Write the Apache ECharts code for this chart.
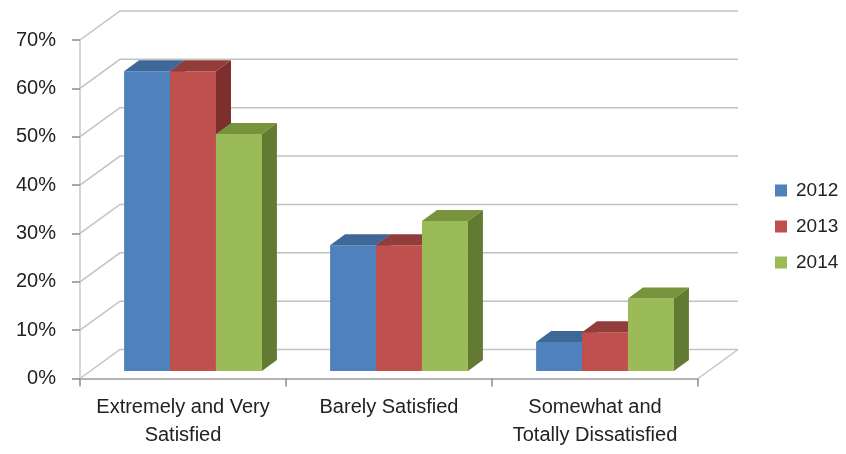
<!DOCTYPE html>
<html>
<head>
<meta charset="utf-8">
<script src="https://cdn.jsdelivr.net/npm/echarts@6/dist/echarts.min.js"></script>
<style>
  html, body { margin: 0; padding: 0; background: #fff; }
  #chart { width: 846px; height: 454px; }
</style>
</head>
<body>
<div id="chart"></div>
<script>
// Satisfaction levels by survey year (percent of respondents)
const categories = ['Extremely and Very\nSatisfied', 'Barely Satisfied', 'Somewhat and\nTotally Dissatisfied'];
const years = ['2012', '2013', '2014'];
const values2012 = [62, 26, 6];
const values2013 = [62, 26, 8];
const values2014 = [49, 31, 15];
const yTicks = [0, 10, 20, 30, 40, 50, 60, 70];

const seriesValues = [values2012, values2013, values2014];
const frontColors = ['#4f81bd', '#c0504d', '#9bbb59'];
const topColors = ['#3f6797', '#933d3b', '#77933c'];
const sideColors = ['#395e8b', '#7c2f2d', '#627a31'];

// oblique depth of the chart box (back wall offset) and of each column
const WALL_DX = 40, WALL_DY = -29;
const COL_DX = 15, COL_DY = -11;
// columns stand a little behind the front edge of the floor
const COL_OFF_X = 10, COL_OFF_Y = -7.5;
const GRID_LINE = '#c2c2c2';

function renderWall(params, api) {
  const cs = params.coordSys;
  const left = cs.x, right = cs.x + cs.width;
  const y = api.coord([0, api.value(1)])[1];
  const style = { stroke: GRID_LINE, lineWidth: 1.5, fill: null };
  const children = [
    { type: 'polyline', shape: { points: [[left, y], [left + WALL_DX, y + WALL_DY], [right + WALL_DX, y + WALL_DY]] }, style: style }
  ];
  if (api.value(1) === 0) {
    children.push({ type: 'line', shape: { x1: right, y1: y, x2: right + WALL_DX, y2: y + WALL_DY }, style: style });
  }
  return { type: 'group', children: children };
}

function makeColumnRenderer(k) {
  return function (params, api) {
    const cat = api.value(0);
    const base = api.coord([cat, 0]);
    const top = api.coord([cat, api.value(1)]);
    const band = api.size([1, 0])[0];
    const w = band * 0.223;
    const x0 = base[0] - 1.5 * w + k * w + COL_OFF_X;
    const x1 = x0 + w;
    const yb = base[1] + COL_OFF_Y;
    const yt = top[1] + COL_OFF_Y;
    return {
      type: 'group',
      children: [
        { type: 'rect', shape: { x: x0, y: yt, width: w, height: yb - yt }, style: { fill: frontColors[k] } },
        { type: 'polygon', shape: { points: [[x1, yb], [x1 + COL_DX, yb + COL_DY], [x1 + COL_DX, yt + COL_DY], [x1, yt]] }, style: { fill: sideColors[k] } },
        { type: 'polygon', shape: { points: [[x0, yt], [x1, yt], [x1 + COL_DX, yt + COL_DY], [x0 + COL_DX, yt + COL_DY]] }, style: { fill: topColors[k] } }
      ]
    };
  };
}

const chart = echarts.init(document.getElementById('chart'), null, { renderer: 'canvas' });

const series = [
  {
    type: 'custom',
    name: 'wall',
    z: 1,
    silent: true,
    renderItem: renderWall,
    data: yTicks.map(v => [0, v])
  }
];
years.forEach((yr, k) => {
  series.push({
    type: 'custom',
    name: yr,
    z: 2 + k,
    renderItem: makeColumnRenderer(k),
    itemStyle: { color: frontColors[k] },
    data: seriesValues[k].map((v, i) => [i, v])
  });
});

chart.setOption({
  animation: false,
  textStyle: { fontFamily: 'Liberation Sans' },
  grid: { left: 80, right: 148, top: 40, bottom: 75.5, containLabel: false },
  legend: {
    data: years,
    orient: 'vertical',
    left: 770,
    top: 176,
    itemWidth: 12,
    itemHeight: 12,
    itemGap: 17,
    icon: 'rect',
    textStyle: { fontSize: 19, color: '#222', fontFamily: 'Liberation Sans', padding: [0, 0, 0, 4] }
  },
  xAxis: {
    type: 'category',
    data: categories,
    boundaryGap: true,
    axisLine: { lineStyle: { color: '#b4b4b4', width: 2 } },
    axisTick: { show: true, length: 8, lineStyle: { color: '#8c8c8c', width: 1.5 } },
    axisLabel: { fontSize: 20, color: '#222', margin: 15, lineHeight: 28, interval: 0 },
    splitLine: { show: false }
  },
  yAxis: {
    type: 'value',
    min: 0,
    max: 70,
    interval: 10,
    axisLine: { show: true, lineStyle: { color: '#c8c8c8', width: 1.5 } },
    axisTick: { show: true, length: 8, lineStyle: { color: '#8c8c8c', width: 1.5 } },
    axisLabel: { fontSize: 20, color: '#222', margin: 24, formatter: '{value}%' },
    splitLine: { show: false }
  },
  series: series
});
</script>
</body>
</html>
